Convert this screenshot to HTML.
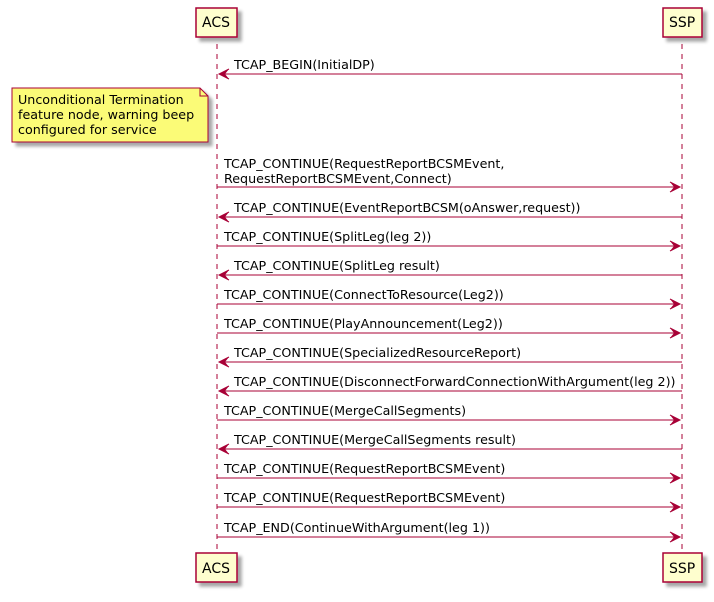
<!DOCTYPE html>
<html><head><meta charset="utf-8"><style>
html,body{margin:0;padding:0;background:#fff;}
svg text{font-family:"DejaVu Sans","Liberation Sans",sans-serif;font-size:12.7px;fill:#000;}
</style></head><body>
<svg width="714" height="597" xmlns="http://www.w3.org/2000/svg">
<defs>
<filter id="sh" x="-20%" y="-20%" width="150%" height="150%"><feGaussianBlur in="SourceAlpha" stdDeviation="1.5"/><feOffset dx="4" dy="4"/><feComponentTransfer><feFuncA type="linear" slope="0.35"/></feComponentTransfer><feMerge><feMergeNode/><feMergeNode in="SourceGraphic"/></feMerge></filter>
</defs>
<line x1="217" y1="44" x2="217" y2="553" stroke="#A80036" stroke-dasharray="5,5"/>
<line x1="682" y1="44" x2="682" y2="553" stroke="#A80036" stroke-dasharray="5,5"/>
<g fill="#FEFECE" stroke="#A80036" stroke-width="1.5" filter="url(#sh)">
<rect x="196" y="8" width="41" height="29"/>
<rect x="663" y="8" width="39" height="29"/>
<rect x="196" y="553" width="41" height="29"/>
<rect x="663" y="553" width="39" height="29"/>
</g>
<text x="202" y="27" style="font-size:14px">ACS</text>
<text x="669" y="27" style="font-size:14px">SSP</text>
<text x="202" y="573" style="font-size:14px">ACS</text>
<text x="669" y="573" style="font-size:14px">SSP</text>
<path d="M12,88 L200,88 L208,96 L208,142 L12,142 Z" fill="#FBFB77" stroke="#A80036" filter="url(#sh)"/>
<path d="M200,88 L200,96 L208,96" fill="none" stroke="#A80036"/>
<text x="18" y="104">Unconditional Termination</text>
<text x="18" y="119">feature node, warning beep</text>
<text x="18" y="134">configured for service</text>
<g stroke="#A80036" fill="none">
<line x1="219" y1="74" x2="682" y2="74"/><path d="M229,69 L219,74 L229,79"/>
<line x1="219" y1="217" x2="682" y2="217"/><path d="M229,212 L219,217 L229,222"/>
<line x1="219" y1="275" x2="682" y2="275"/><path d="M229,270 L219,275 L229,280"/>
<line x1="219" y1="362" x2="682" y2="362"/><path d="M229,357 L219,362 L229,367"/>
<line x1="219" y1="391" x2="682" y2="391"/><path d="M229,386 L219,391 L229,396"/>
<line x1="219" y1="449" x2="682" y2="449"/><path d="M229,444 L219,449 L229,454"/>
<line x1="217" y1="187" x2="680" y2="187"/><path d="M670,182 L680,187 L670,192"/>
<line x1="217" y1="246" x2="680" y2="246"/><path d="M670,241 L680,246 L670,251"/>
<line x1="217" y1="304" x2="680" y2="304"/><path d="M670,299 L680,304 L670,309"/>
<line x1="217" y1="333" x2="680" y2="333"/><path d="M670,328 L680,333 L670,338"/>
<line x1="217" y1="420" x2="680" y2="420"/><path d="M670,415 L680,420 L670,425"/>
<line x1="217" y1="478" x2="680" y2="478"/><path d="M670,473 L680,478 L670,483"/>
<line x1="217" y1="507" x2="680" y2="507"/><path d="M670,502 L680,507 L670,512"/>
<line x1="217" y1="537" x2="680" y2="537"/><path d="M670,532 L680,537 L670,542"/>
</g>
<g fill="#A80036">
<path d="M219,74 L229,69 L225,74 L229,79Z"/><path d="M219,217 L229,212 L225,217 L229,222Z"/><path d="M219,275 L229,270 L225,275 L229,280Z"/><path d="M219,362 L229,357 L225,362 L229,367Z"/><path d="M219,391 L229,386 L225,391 L229,396Z"/><path d="M219,449 L229,444 L225,449 L229,454Z"/>
<path d="M680,187 L670,182 L674,187 L670,192Z"/><path d="M680,246 L670,241 L674,246 L670,251Z"/><path d="M680,304 L670,299 L674,304 L670,309Z"/><path d="M680,333 L670,328 L674,333 L670,338Z"/><path d="M680,420 L670,415 L674,420 L670,425Z"/><path d="M680,478 L670,473 L674,478 L670,483Z"/><path d="M680,507 L670,502 L674,507 L670,512Z"/><path d="M680,537 L670,532 L674,537 L670,542Z"/>
</g>
<text x="234" y="69">TCAP_BEGIN(InitialDP)</text>
<text x="224" y="168">TCAP_CONTINUE(RequestReportBCSMEvent,</text>
<text x="224" y="183">RequestReportBCSMEvent,Connect)</text>
<text x="234" y="212">TCAP_CONTINUE(EventReportBCSM(oAnswer,request))</text>
<text x="224" y="241">TCAP_CONTINUE(SplitLeg(leg 2))</text>
<text x="234" y="270">TCAP_CONTINUE(SplitLeg result)</text>
<text x="224" y="299">TCAP_CONTINUE(ConnectToResource(Leg2))</text>
<text x="224" y="328">TCAP_CONTINUE(PlayAnnouncement(Leg2))</text>
<text x="234" y="357">TCAP_CONTINUE(SpecializedResourceReport)</text>
<text x="234" y="386">TCAP_CONTINUE(DisconnectForwardConnectionWithArgument(leg 2))</text>
<text x="224" y="415">TCAP_CONTINUE(MergeCallSegments)</text>
<text x="234" y="444">TCAP_CONTINUE(MergeCallSegments result)</text>
<text x="224" y="473">TCAP_CONTINUE(RequestReportBCSMEvent)</text>
<text x="224" y="502">TCAP_CONTINUE(RequestReportBCSMEvent)</text>
<text x="224" y="532">TCAP_END(ContinueWithArgument(leg 1))</text>
</svg>
</body></html>
